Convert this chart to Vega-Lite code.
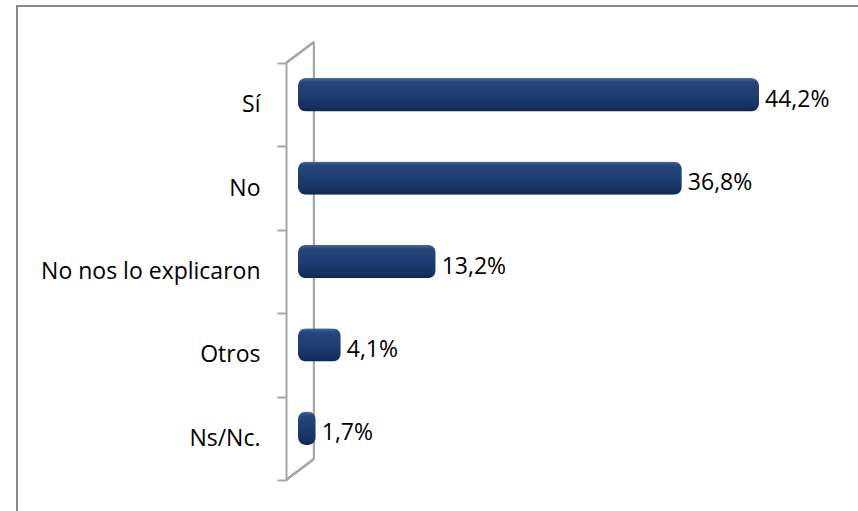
{
  "$schema": "https://vega.github.io/schema/vega-lite/v6.json",
  "autosize": "none",
  "padding": {"left": 17, "top": 6, "right": 0, "bottom": 0},
  "width": 845,
  "height": 510,
  "background": "white",
  "config": {
    "view": {"stroke": "#8a8a8a", "strokeWidth": 2},
    "font": "Open Sans"
  },
  "data": {
    "values": [
      {"cat": "Sí", "pct": 44.2, "label": "44,2%"},
      {"cat": "No", "pct": 36.8, "label": "36,8%"},
      {"cat": "No nos lo explicaron", "pct": 13.2, "label": "13,2%"},
      {"cat": "Otros", "pct": 4.1, "label": "4,1%"},
      {"cat": "Ns/Nc.", "pct": 1.7, "label": "1,7%"}
    ]
  },
  "encoding": {
    "y": {
      "field": "cat",
      "type": "nominal",
      "sort": null,
      "scale": {"domain": ["Sí", "No", "No nos lo explicaron", "Otros", "Ns/Nc."], "range": [57, 474], "padding": 0},
      "axis": {
        "title": null,
        "offset": -269,
        "tickBand": "extent",
        "domainColor": "#a6a6a6",
        "domainWidth": 2,
        "tickColor": "#a6a6a6",
        "tickWidth": 2,
        "tickSize": 9,
        "labelFont": "Open Sans",
        "labelFontSize": 23,
        "labelColor": "#000000",
        "labelPadding": 17,
        "labelLimit": 400
      }
    }
  },
  "layer": [
    {
      "mark": {"type": "rule", "color": "#a6a6a6", "strokeWidth": 2, "yOffset": -21, "y2Offset": -21},
      "encoding": {
        "x": {"datum": 1.53, "type": "quantitative", "scale": {"domain": [0, 50], "range": [281, 802.5]}, "axis": null},
        "y": {"datum": "Sí", "bandPosition": 0},
        "y2": {"datum": "Ns/Nc.", "bandPosition": 1}
      }
    },
    {
      "mark": {"type": "rule", "color": "#a6a6a6", "strokeWidth": 2, "y2Offset": -21},
      "encoding": {
        "x": {"datum": -1.15, "type": "quantitative"},
        "x2": {"datum": 1.53},
        "y": {"datum": "Sí", "bandPosition": 0},
        "y2": {"datum": "Sí", "bandPosition": 0}
      }
    },
    {
      "mark": {"type": "rule", "color": "#a6a6a6", "strokeWidth": 2, "y2Offset": -21},
      "encoding": {
        "x": {"datum": -1.15, "type": "quantitative"},
        "x2": {"datum": 1.53},
        "y": {"datum": "Ns/Nc.", "bandPosition": 1},
        "y2": {"datum": "Ns/Nc.", "bandPosition": 1}
      }
    },
    {
      "mark": {
        "type": "bar",
        "height": {"band": 0.4},
        "yOffset": -10,
        "cornerRadius": 8,
        "color": {
          "gradient": "linear",
          "x1": 0, "y1": 0, "x2": 0, "y2": 1,
          "stops": [
            {"offset": 0, "color": "#4a6a9c"},
            {"offset": 0.12, "color": "#27477c"},
            {"offset": 0.5, "color": "#1e3e72"},
            {"offset": 0.88, "color": "#15305e"},
            {"offset": 1, "color": "#0e2550"}
          ]
        }
      },
      "encoding": {
        "x": {"field": "pct", "type": "quantitative"}
      }
    },
    {
      "mark": {"type": "text", "align": "left", "baseline": "middle", "dx": 6, "yOffset": -5, "fontSize": 23, "font": "Open Sans", "color": "#000000"},
      "encoding": {
        "x": {"field": "pct", "type": "quantitative"},
        "text": {"field": "label"}
      }
    }
  ]
}
